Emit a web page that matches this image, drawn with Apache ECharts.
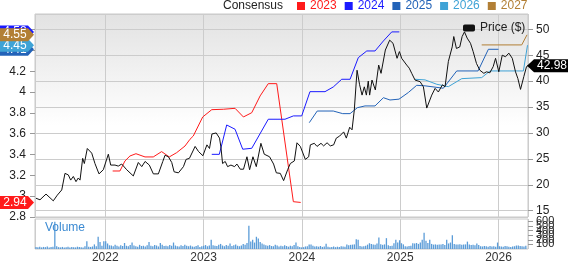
<!DOCTYPE html>
<html><head><meta charset="utf-8">
<script src="https://cdn.jsdelivr.net/npm/echarts@6/dist/echarts.min.js"></script>
<style>html,body{margin:0;padding:0;background:#fff}#c{width:568px;height:264px}</style>
</head><body><div id="c"></div>
<script>
const xMin = 2021.285, xMax = 2026.300;
const legendYears = ['2023', '2024', '2025', '2026', '2027'];

const priceYears = [2021.295,2021.336,2021.397,2021.471,2021.512,2021.557,2021.590,2021.624,2021.648,2021.675,2021.702,2021.725,2021.743,2021.770,2021.787,2021.817,2021.862,2021.895,2021.936,2021.980,
2022.031,2022.055,2022.099,2022.132,2022.167,2022.218,2022.285,2022.336,2022.371,2022.405,2022.448,2022.489,2022.540,2022.585,2022.608,2022.642,2022.676,2022.700,2022.744,2022.795,2022.822,2022.856,2022.914,2022.949,2022.993,
2023.034,2023.060,2023.085,2023.128,2023.162,2023.176,2023.193,2023.220,2023.244,2023.278,2023.315,2023.339,2023.373,2023.406,2023.441,2023.468,2023.502,2023.536,2023.583,2023.617,2023.671,2023.712,2023.740,2023.780,2023.814,2023.855,2023.882,2023.923,2023.950,2023.984,
2024.035,2024.069,2024.086,2024.126,2024.154,2024.194,2024.221,2024.256,2024.289,2024.323,2024.350,2024.384,2024.425,2024.452,2024.486,2024.510,2024.533,2024.561,2024.587,2024.612,2024.635,2024.656,2024.675,2024.689,2024.713,2024.747,2024.781,2024.805,2024.849,2024.893,2024.927,2024.968,2024.992,
2025.015,2025.066,2025.092,2025.117,2025.151,2025.202,2025.236,2025.270,2025.321,2025.355,2025.388,2025.430,2025.456,2025.490,2025.529,2025.545,2025.572,2025.606,2025.630,2025.654,2025.681,2025.715,2025.742,2025.776,2025.810,2025.851,2025.878,2025.912,2025.946,2025.970,
2026.003,2026.038,2026.071,2026.105,2026.140,2026.173,2026.197,2026.224,2026.258,2026.285,2026.300];
const priceValues = [17.4,17.1,18.2,16.9,18.0,19.0,22.2,21.9,20.9,21.6,20.6,21.3,20.9,25.1,24.1,27.0,26.1,24.1,22.1,22.9,
25.9,23.8,23.8,23.6,24.0,22.9,21.7,24.3,23.5,24.5,23.8,22.1,22.1,24.5,25.7,25.4,24.3,22.5,22.3,23.5,24.9,25.1,27.4,26.4,25.6,
27.7,27.0,29.8,30.0,29.0,27.3,24.1,24.5,23.5,23.8,23.5,24.0,23.0,23.0,25.4,22.9,25.4,23.5,28.0,25.9,25.4,24.0,22.3,22.2,20.8,22.9,24.1,24.6,28.1,27.4,
24.9,25.4,27.7,28.0,27.4,28.0,27.5,28.1,27.5,27.7,29.0,29.4,30.2,29.0,31.1,30.6,34.4,42.1,39.3,37.3,38.9,37.3,40.0,37.3,40.2,38.3,43.1,41.5,46.0,47.9,47.3,44.4,45.7,
44.4,43.1,42.5,41.5,40.2,39.9,38.9,34.8,37.3,38.6,37.9,39.3,38.9,43.8,46.6,48.6,46.3,46.6,48.6,49.5,48.3,47.3,45.7,43.4,42.1,41.5,41.8,41.6,42.8,44.4,
41.8,45.0,44.7,45.4,44.4,41.8,40.5,38.4,40.9,42.8,42.98];

const eps2023Years = [2022.075,2022.149,2022.200,2022.251,2022.312,2022.404,2022.488,2022.573,2022.651,2022.726,2022.811,2022.862,2022.895,2022.991,2023.083,2023.201,2023.320,2023.405,2023.490,2023.575,2023.658,2023.744,2023.913,2023.988];
const eps2023Values = [3.242,3.242,3.338,3.386,3.408,3.377,3.377,3.428,3.377,3.418,3.482,3.547,3.578,3.761,3.831,3.835,3.844,3.761,3.802,3.963,4.081,4.081,2.947,2.94];

const eps2024Years = [2023.083,2023.160,2023.235,2023.320,2023.398,2023.490,2023.658,2023.828,2023.913,2023.998,2024.082,2024.235,2024.319,2024.405,2024.490,2024.574,2024.660,2024.744,2024.829,2024.914,2024.991];
const eps2024Values = [3.402,3.402,3.684,3.643,3.451,3.46,3.739,3.739,3.771,3.771,4.004,4.004,4.049,4.123,4.123,4.331,4.395,4.395,4.491,4.578,4.578];

const eps2025Years = [2024.075,2024.156,2024.319,2024.415,2024.490,2024.564,2024.642,2024.744,2024.829,2024.896,2024.988,2025.083,2025.168,2025.253,2025.439,2025.575,2025.792,2025.897,2026.000];
const eps2025Values = [3.706,3.818,3.818,3.793,3.793,3.85,3.867,3.867,3.946,3.924,3.932,3.996,4.065,4.06,4.037,4.203,4.203,4.411,4.411];

const eps2026Years = [2025.151,2025.253,2025.372,2025.490,2025.626,2025.829,2025.914,2026.253,2026.295];
const eps2026Values = [4.123,4.117,4.075,4.052,4.129,4.139,4.203,4.203,4.45];

const eps2027Years = [2025.829,2026.236,2026.290];
const eps2027Values = [4.453,4.453,4.55];

const volumeStart = 2021.295;
const volumeValues = [45,40,50,35,45,40,55,30,45,50, 590,60,40,35,45,30,40,50,35,45,
40,35,50,45,40,30,60,170,50,45, 55,100,60,265,150,70,170,170,120,80,
75,60,90,70,55,80,65,130,70,60, 85,140,75,60,50,90,65,70,55,80,
150,70,60,85,75,55,130,90,65,70, 60,85,70,140,75,60,55,80,65,90,
70,60,75,55,50,65,80,45,60,70, 85,60,75,200,80,70,65,90,110,75,
60,85,70,120,65,80,95,70,60,75, 110,90,130,505,160,200,140,265,230,150,
120,95,80,70,85,65,60,90,75,55, 70,60,80,65,50,70,60,85,140,60,
45,35,40,55,60,95,100,70,55,60, 50,65,45,55,115,50,40,45,55,40,
50,45,60,55,50,95,80,90,95,100, 210,200,65,55,60,70,95,125,110,100,
90,120,250,105,90,100,235,80,65,70, 125,200,140,190,125,100,60,55,65,70,
125,120,130,110,140,200,350,180,130,200, 110,95,100,90,100,95,110,85,200,120,
140,300,110,95,100,105,90,95,100,160, 100,85,90,80,120,85,60,55,65,60,
50,65,55,60,50,140,60,55,50,65, 60,50,45,55,60,75,75,65,60,55,
70];

const colors = {'2023':'#ff1a1a','2024':'#1a1aff','2025':'#2363b8','2026':'#3fa3d6','2027':'#b27f35'};
const FONT = 'Liberation Sans, Arial, sans-serif';
const pairs = (xs, ys) => xs.map((x, i) => [x, ys[i]]);
const weekYears = 7 / 365.25;
const volumeData = volumeValues.map((v, i) => [volumeStart + i * weekYears, v]);

const chart = echarts.init(document.getElementById('c'), null, {renderer: 'canvas'});

const gridLine = {show: true, lineStyle: {color: '#cccccc', width: 1}};
const epsSeries = (name, xs, ys) => ({
  name, type: 'line', xAxisIndex: 0, yAxisIndex: 0, data: pairs(xs, ys),
  showSymbol: false, symbol: 'none', clip: false,
  lineStyle: {color: colors[name], width: 1}, itemStyle: {color: colors[name]}, z: 3
});

const option = {
  animation: false,
  textStyle: {fontFamily: FONT},
  grid: [
    {left: 35, right: 40, top: 14, height: 203, show: true, borderColor: '#c8c8c8', borderWidth: 1,
     backgroundColor: new echarts.graphic.LinearGradient(0, 0, 0, 1, [
       {offset: 0, color: '#e2e2e2'}, {offset: 0.55, color: '#ffffff'}, {offset: 1, color: '#ffffff'}])},
    {left: 35, right: 40, top: 219, height: 34.3, show: true, borderColor: '#c8c8c8', borderWidth: 1, backgroundColor: '#ffffff'}
  ],
  legend: [
    {data: legendYears.map(n => ({name: n, textStyle: {color: colors[n]}})),
     left: 297, top: 0, padding: 0, icon: 'rect', itemWidth: 8, itemHeight: 8, itemGap: 8,
     textStyle: {fontSize: 12, fontFamily: FONT}, selectedMode: false},
    {data: [{name: 'Price ($)'}], left: 463, top: 22, padding: 0, icon: 'roundRect', itemWidth: 12, itemHeight: 7,
     textStyle: {fontSize: 12, color: '#222', fontFamily: FONT}, selectedMode: false}
  ],
  xAxis: [
    {type: 'value', gridIndex: 0, min: xMin, max: xMax, splitNumber: 5,
     axisLine: {show: false}, axisTick: {show: false}, axisLabel: {show: false}, splitLine: gridLine},
    {type: 'value', gridIndex: 1, min: xMin, max: xMax, splitNumber: 5,
     axisLine: {show: false}, axisTick: {show: false}, splitLine: gridLine,
     axisLabel: {show: true, showMinLabel: false, showMaxLabel: false, color: '#333', fontSize: 12, margin: 3,
       fontFamily: FONT, formatter: v => String(Math.round(v))}}
  ],
  yAxis: [
    {type: 'value', gridIndex: 0, position: 'left', min: 2.8, max: 4.75, splitNumber: 10,
     axisLine: {show: false}, splitLine: {show: false},
     axisTick: {show: true, length: 5, lineStyle: {color: '#999'}},
     axisLabel: {color: '#222', fontSize: 12, margin: 9, fontFamily: FONT, showMinLabel: true, showMaxLabel: false,
       formatter: v => (v > 4.3 ? '' : String(+v.toFixed(2)))}},
    {type: 'value', gridIndex: 0, position: 'right', min: 13.78, max: 52.95, splitNumber: 8,
     axisLine: {show: false}, splitLine: gridLine,
     axisTick: {show: true, length: 5, lineStyle: {color: '#999'}},
     axisLabel: {color: '#222', fontSize: 12, margin: 8, fontFamily: FONT, showMinLabel: false, showMaxLabel: false}},
    {type: 'value', gridIndex: 1, position: 'right', min: 0, max: 650, interval: 100,
     axisLine: {show: false}, splitLine: {show: false},
     axisTick: {show: true, length: 5, lineStyle: {color: '#999'}},
     axisLabel: {color: '#222', fontSize: 11, margin: 8, fontFamily: FONT, showMaxLabel: false}}
  ],
  series: [
    {name: 'Volume', type: 'bar', xAxisIndex: 1, yAxisIndex: 2, data: volumeData, barWidth: 1.3,
     itemStyle: {color: '#5b9cd8'}, large: false},
    epsSeries('2023', eps2023Years, eps2023Values),
    epsSeries('2024', eps2024Years, eps2024Values),
    epsSeries('2025', eps2025Years, eps2025Values),
    epsSeries('2026', eps2026Years, eps2026Values),
    epsSeries('2027', eps2027Years, eps2027Values),
    {name: 'Price ($)', type: 'line', xAxisIndex: 0, yAxisIndex: 1, data: pairs(priceYears, priceValues),
     showSymbol: false, symbol: 'none', clip: false, lineStyle: {color: '#111', width: 1}, itemStyle: {color: '#111'}, z: 4}
  ]
};
chart.setOption(option);

const elements = [
  {type: 'text', left: 223, top: 0, style: {text: 'Consensus', fill: '#222', font: '12px ' + FONT}, z: 50},
  {type: 'text', left: 45, top: 222, style: {text: 'Volume', fill: '#3b8ad2', font: '12px ' + FONT}, z: 50}
];
let zc = 60;
function leftTag(value, color, label) {
  const y = chart.convertToPixel({yAxisIndex: 0}, value);
  elements.push({type: 'polygon', shape: {points: [[0, y - 6.5], [28, y - 6.5], [34, y], [28, y + 6.5], [0, y + 6.5]]},
    style: {fill: color}, z: zc++});
  elements.push({type: 'text', x: 15, y: y, style: {text: label, fill: '#fff', font: '12px ' + FONT,
    align: 'center', verticalAlign: 'middle', textAlign: 'center', textVerticalAlign: 'middle'}, z: zc++});
}
const last = arr => arr[arr.length - 1];
leftTag(last(eps2023Values), colors['2023'], last(eps2023Values).toFixed(2));
leftTag(last(eps2024Values), colors['2024'], last(eps2024Values).toFixed(2));
leftTag(last(eps2025Values), colors['2025'], last(eps2025Values).toFixed(2));
leftTag(last(eps2026Values), colors['2026'], last(eps2026Values).toFixed(2));
leftTag(last(eps2027Values), colors['2027'], last(eps2027Values).toFixed(2));
{
  const v = last(priceValues);
  const y = chart.convertToPixel({yAxisIndex: 1}, v);
  elements.push({type: 'polygon', shape: {points: [[527, y], [534, y - 6.5], [568, y - 6.5], [568, y + 6.5], [534, y + 6.5]]},
    style: {fill: '#000'}, z: zc++});
  elements.push({type: 'text', x: 552, y: y, style: {text: v.toFixed(2), fill: '#fff', font: '12px ' + FONT,
    align: 'center', verticalAlign: 'middle', textAlign: 'center', textVerticalAlign: 'middle'}, z: zc++});
}
chart.setOption({graphic: {elements}});
</script></body></html>
